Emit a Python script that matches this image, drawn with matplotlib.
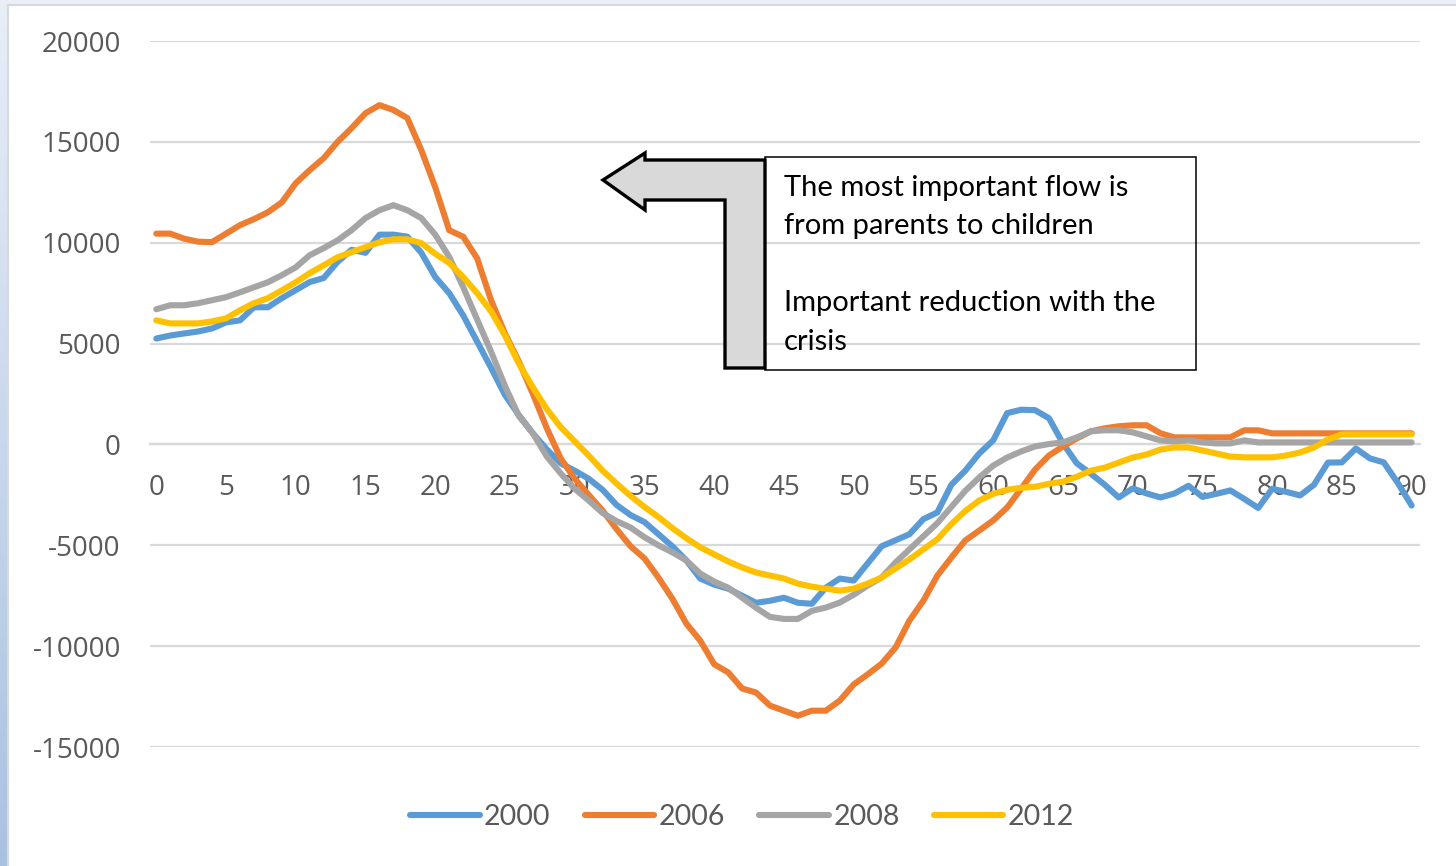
import numpy as np
import matplotlib
matplotlib.use("Agg")
import matplotlib.pyplot as plt
from matplotlib.patches import Polygon, Rectangle
from matplotlib.colors import LinearSegmentedColormap

ages = list(range(0, 91))

s2000 = [5250, 5400, 5500, 5600, 5750, 6050, 6150, 6800, 6800, 7250,
         7650, 8050, 8250, 9050, 9650, 9500, 10400, 10400, 10300, 9500,
         8300, 7500, 6400, 5100, 3800, 2450, 1450, 550, -250, -940,
         -1300, -1700, -2250, -3000, -3500, -3850, -4450, -5050, -5750, -6650,
         -6950, -7150, -7500, -7850, -7750, -7600, -7850, -7900, -7100, -6650,
         -6750, -5900, -5050, -4750, -4450, -3700, -3370, -2000, -1300, -450,
         200, 1550, 1720, 1700, 1300, 50, -940, -1450, -2000, -2630,
         -2180, -2430, -2630, -2430, -2050, -2600, -2450, -2280, -2700, -3150,
         -2200, -2350, -2530, -2000, -900, -890, -200, -690, -890, -1900,
         -3030]

s2006 = [10450, 10450, 10200, 10050, 10030, 10450, 10870, 11170, 11510, 12000,
         12950, 13600, 14190, 15000, 15680, 16420, 16820, 16580, 16180, 14590,
         12750, 10620, 10300, 9230, 7150, 5500, 4100, 2500, 800, -700,
         -1700, -2500, -3280, -4200, -5050, -5650, -6600, -7650, -8880, -9730,
         -10900, -11300, -12100, -12300, -12950, -13200, -13450, -13200, -13200, -12700,
         -11900, -11400, -10870, -10070, -8730, -7740, -6500, -5610, -4760, -4270,
         -3770, -3130, -2200, -1250, -550, -100, 300, 650, 800, 900,
         950, 950, 550, 350, 350, 350, 350, 350, 700, 700,
         550, 550, 550, 550, 550, 550, 550, 550, 550, 550,
         550]

s2008 = [6700, 6900, 6900, 7000, 7150, 7300, 7540, 7790, 8040, 8390,
         8780, 9380, 9730, 10120, 10620, 11220, 11610, 11860, 11610, 11220,
         10400, 9300, 7800, 6200, 4600, 2900, 1400, 550, -600, -1440,
         -2200, -2780, -3400, -3800, -4120, -4600, -5000, -5350, -5750, -6400,
         -6800, -7100, -7600, -8100, -8550, -8650, -8650, -8250, -8090, -7840,
         -7450, -7000, -6600, -5850, -5200, -4550, -3900, -3100, -2300, -1640,
         -1050, -650, -350, -100, 20, 100, 350, 650, 700, 700,
         600, 400, 200, 150, 200, 100, 50, 50, 200, 100,
         100, 100, 100, 100, 100, 100, 100, 100, 100, 100,
         100]

s2012 = [6150, 6000, 6000, 6000, 6100, 6250, 6650, 7000, 7250, 7640,
         8040, 8490, 8880, 9280, 9530, 9780, 10020, 10170, 10170, 9980,
         9450, 9000, 8300, 7500, 6600, 5400, 4000, 2830, 1750, 850,
         150, -550, -1300, -1940, -2550, -3100, -3600, -4150, -4650, -5100,
         -5450, -5800, -6100, -6350, -6500, -6650, -6900, -7050, -7150, -7250,
         -7150, -6900, -6600, -6150, -5700, -5200, -4700, -3950, -3300, -2780,
         -2450, -2250, -2150, -2100, -1950, -1850, -1600, -1300, -1150, -900,
         -650, -500, -250, -150, -150, -300, -450, -600, -640, -640,
         -640, -550, -400, -150, 250, 500, 500, 500, 500, 500,
         500]

series_names = ["2000", "2006", "2008", "2012"]
series_values = [s2000, s2006, s2008, s2012]
series_colors = ["#5B9BD5", "#ED7D31", "#A5A5A5", "#FFC000"]

y_ticks = [-15000, -10000, -5000, 0, 5000, 10000, 15000, 20000]
x_ticks = list(range(0, 91, 5))

note_lines = ["The most important flow is", "from parents to children",
              "Important reduction with the", "crisis"]

W, H = 1456, 866
fig = plt.figure(figsize=(W / 100, H / 100), dpi=100)
fig.patch.set_facecolor("white")

def px(x, y):
    return (x / W, 1 - y / H)

# window decoration: top strip and left gradient strip
grad = np.linspace(0, 1, 256).reshape(-1, 1)
cmap = LinearSegmentedColormap.from_list("g", ["#E9EEF7", "#A9C1E1"])
gax = fig.add_axes([0, 0, 7 / W, 1])
gax.imshow(grad, aspect="auto", cmap=cmap)
gax.axis("off")
fig.patches.append(Rectangle((0, 1 - 4 / H), 1, 4 / H, transform=fig.transFigure,
                             facecolor="#E9EEF7", edgecolor="none", zorder=0))
fig.lines.append(plt.Line2D([7.5 / W, 7.5 / W], [0, 1 - 4.5 / H], transform=fig.transFigure,
                            color="#D9D9D9", lw=1.5))
fig.lines.append(plt.Line2D([7.5 / W, 1], [1 - 4.5 / H, 1 - 4.5 / H], transform=fig.transFigure,
                            color="#D9D9D9", lw=1.5))

left, right = 150 / W, 1420 / W
bottom, top = 1 - 747 / H, 1 - 41 / H
ax = fig.add_axes([left, bottom, right - left, top - bottom])
ax.set_facecolor("none")

for name, vals, col in zip(series_names, series_values, series_colors):
    ax.plot(ages, vals, color=col, lw=4.4, label=name,
            solid_joinstyle="round", solid_capstyle="round", zorder=3)

ax.set_ylim(-15000, 20000)
ax.set_xlim(-0.45, 90.6)
ax.set_yticks(y_ticks)
ax.set_yticklabels([str(v) for v in y_ticks])
ax.set_xticks(x_ticks)
ax.set_xticklabels([str(v) for v in x_ticks])
ax.grid(axis="y", color="#D9D9D9", lw=1.6, zorder=0)
ax.set_axisbelow(True)
for sp in ["top", "right", "left"]:
    ax.spines[sp].set_visible(False)
ax.spines["bottom"].set_position(("data", 0))
ax.spines["bottom"].set_color("#D9D9D9")
ax.spines["bottom"].set_linewidth(1.6)
ax.tick_params(axis="both", length=0, labelsize=20, labelcolor="#595959")
ax.tick_params(axis="y", pad=21)
ax.tick_params(axis="x", pad=21)
for lab in ax.get_xticklabels() + ax.get_yticklabels():
    lab.set_fontfamily(["Open Sans", "DejaVu Sans"])

# bent arrow and text box
arrow_pts = [(603, 180), (645, 153), (645, 160), (765, 160), (765, 368),
             (725, 368), (725, 200), (645, 200), (645, 210)]
fig.patches.append(Polygon([px(x, y) for x, y in arrow_pts], closed=True,
                           transform=fig.transFigure, facecolor="#D9D9D9",
                           edgecolor="black", lw=2.4, joinstyle="miter", zorder=5))
bx0, by0 = px(765, 370)
bx1, by1 = px(1196, 157)
fig.patches.append(Rectangle((bx0, by0), bx1 - bx0, by1 - by0, transform=fig.transFigure,
                             facecolor="none", edgecolor="black", lw=1.1, zorder=5))
for line, yy in zip(note_lines, [188, 226, 303, 342]):
    fig.text(*px(784, yy), line, fontsize=21, family=["Lato", "DejaVu Sans"],
             color="black", va="center", ha="left", zorder=6)

leg = fig.legend(*ax.get_legend_handles_labels(), loc="center",
                 bbox_to_anchor=px(742, 817),
                 ncol=4, frameon=False, handlelength=2.45,
                 handletextpad=0.15, columnspacing=1.2,
                 prop={"family": ["Lato", "DejaVu Sans"], "size": 20.5})
for t in leg.get_texts():
    t.set_color("#595959")
for h in leg.get_lines():
    h.set_linewidth(4.4)
    h.set_solid_capstyle("round")

fig.savefig("out.png", dpi=100, facecolor="white")
